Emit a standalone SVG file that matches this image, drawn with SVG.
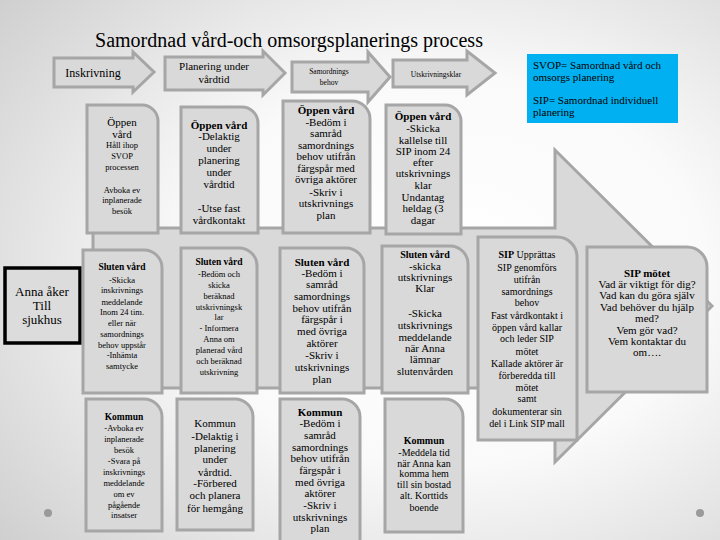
<svg xmlns="http://www.w3.org/2000/svg" width="720" height="540" viewBox="0 0 720 540">
<defs>
<radialGradient id="bg" cx="0.62" cy="0.5" r="0.8">
<stop offset="0" stop-color="#ffffff"/>
<stop offset="0.45" stop-color="#fafafa"/>
<stop offset="1" stop-color="#cfcfcf"/>
</radialGradient>
<style>
.card{fill:#d9d9d9;stroke:#a6a6a6;stroke-width:3}
.arr{fill:#d9d9d9;stroke:#a6a6a6;stroke-width:3;stroke-linejoin:miter}
.t{font-family:"Liberation Serif","Times New Roman",serif;fill:#000;text-anchor:middle}
.b{font-weight:bold}
.s7{font-size:7.5px}.s8{font-size:8.5px}.s9{font-size:9.5px}.s10{font-size:10px}.s11{font-size:11px}.s13{font-size:13px}
.dot{fill:#9a9a9a}
</style>
</defs>
<rect x="0" y="0" width="720" height="540" fill="url(#bg)"/>
<circle class="dot" cx="48" cy="513" r="4"/>
<circle class="dot" cx="700" cy="513" r="4"/>

<g id="big-arrow">
<path class="arr" d="M93,228 H555 V150 L712,306 L555,462 V388 H93 Z"/>
</g>

<g id="connectors"></g>

<g id="title">
<text class="t" x="289" y="47" style="font-size:20px">Samordnad vård-och omsorgsplanerings process</text>
</g>

<g id="step-inskrivning">
<path class="arr" d="M54,58 H133 V52 L154,72 L133,92 V87 H54 Z"/>
<text class="t" style="font-size:12px" x="93" y="77">Inskrivning</text>
</g>
<g id="step-planering">
<path class="arr" d="M165,57 H263 V51 L285,73 L263,95 V90 H165 Z"/>
<text class="t s11"><tspan x="214" y="70">Planering under</tspan><tspan x="214" y="83">vårdtid</tspan></text>
</g>
<g id="step-samordning">
<path class="arr" d="M292,62 H368 V52 L390,77 L368,102 V92 H292 Z"/>
<text class="t s7"><tspan x="329" y="74">Samordnings</tspan><tspan x="329" y="85">behov</tspan></text>
</g>
<g id="step-utskrivning">
<path class="arr" d="M393,60 H467 V51 L495,73 L467,95 V87 H393 Z"/>
<text class="t s7" x="436" y="77">Utskrivningsklar</text>
</g>

<g id="legend">
<rect x="527" y="54" width="151" height="69" fill="#00b0f0"/>
<text class="t s11" style="text-anchor:start"><tspan x="533" y="69">SVOP= Samordnad vård och</tspan><tspan x="533" y="81">omsorgs planering</tspan><tspan x="533" y="104">SIP= Samordnad individuell</tspan><tspan x="533" y="116">planering</tspan></text>
</g>

<g id="anna">
<rect x="5" y="268" width="75" height="75" fill="#dcdcdc" stroke="#000" stroke-width="3.5"/>
<text class="t s13"><tspan x="42" y="296">Anna åker</tspan><tspan x="42" y="310">Till</tspan><tspan x="42" y="324">sjukhus</tspan></text>
</g>

<g id="r1c1">
<path class="card" d="M87,105 H142 A16,16 0 0 1 158,121 V233 H87 Z"/>
<text class="t s11"><tspan x="122" y="126">Öppen</tspan><tspan x="122" y="138">vård</tspan></text>
<text class="t s8"><tspan x="122" y="148">Håll ihop</tspan><tspan x="122" y="159">SVOP</tspan><tspan x="122" y="170">processen</tspan><tspan x="122" y="193">Avboka ev</tspan><tspan x="122" y="203">inplanerade</tspan><tspan x="122" y="214">besök</tspan></text>
</g>
<g id="r1c2">
<path class="card" d="M181,107 H242 A16,16 0 0 1 258,123 V233 H181 Z"/>
<text class="t s11"><tspan x="219" y="129" class="b">Öppen vård</tspan><tspan x="219" y="140">-Delaktig</tspan><tspan x="219" y="152">under</tspan><tspan x="219" y="164">planering</tspan><tspan x="219" y="176">under</tspan><tspan x="219" y="188">vårdtid</tspan><tspan x="219" y="212">-Utse fast</tspan><tspan x="219" y="224">vårdkontakt</tspan></text>
</g>
<g id="r1c3">
<path class="card" d="M283,101 H352 A18,18 0 0 1 370,119 V233 H283 Z"/>
<text class="t s11"><tspan x="326" y="114" class="b">Öppen vård</tspan><tspan x="326" y="126">-Bedöm i</tspan><tspan x="326" y="137">samråd</tspan><tspan x="326" y="149">samordnings</tspan><tspan x="326" y="160">behov utifrån</tspan><tspan x="326" y="172">färgspår med</tspan><tspan x="326" y="183">övriga aktörer</tspan><tspan x="326" y="196">-Skriv i</tspan><tspan x="326" y="207">utskrivnings</tspan><tspan x="326" y="219">plan</tspan></text>
</g>
<g id="r1c4">
<path class="card" d="M386,105 H445 A16,16 0 0 1 461,121 V234 H386 Z"/>
<text class="t s11"><tspan x="423" y="120" class="b">Öppen vård</tspan><tspan x="423" y="132">-Skicka</tspan><tspan x="423" y="144">kallelse till</tspan><tspan x="423" y="155">SIP  inom 24</tspan><tspan x="423" y="166">efter</tspan><tspan x="423" y="177">utskrivnings</tspan><tspan x="423" y="189">klar</tspan><tspan x="423" y="201">Undantag</tspan><tspan x="423" y="212">heldag (3</tspan><tspan x="423" y="224">dagar</tspan></text>
</g>

<g id="r2c1">
<path class="card" d="M83,250 H144 A18,18 0 0 1 162,268 V393 H83 Z"/>
<text class="t s9"><tspan x="122" y="270" class="b">Sluten vård</tspan></text>
<text class="t s8"><tspan x="122" y="283">-Skicka</tspan><tspan x="122" y="293">inskrivnings</tspan><tspan x="122" y="305">meddelande</tspan><tspan x="122" y="315">Inom 24 tim.</tspan><tspan x="122" y="326">eller när</tspan><tspan x="122" y="337">samordnings</tspan><tspan x="122" y="348">behov uppstår</tspan><tspan x="122" y="358">-Inhämta</tspan><tspan x="122" y="369">samtycke</tspan></text>
</g>
<g id="r2c2">
<path class="card" d="M181,248 H239 A18,18 0 0 1 257,266 V393 H181 Z"/>
<text class="t s9"><tspan x="219" y="265" class="b">Sluten vård</tspan></text>
<text class="t s8"><tspan x="219" y="277">-Bedöm och</tspan><tspan x="219" y="288">skicka</tspan><tspan x="219" y="299">beräknad</tspan><tspan x="219" y="310">utskrivningsk</tspan><tspan x="219" y="320">lar</tspan><tspan x="219" y="331">- Informera</tspan><tspan x="219" y="342">Anna om</tspan><tspan x="219" y="353">planerad vård</tspan><tspan x="219" y="364">och beräknad</tspan><tspan x="219" y="375">utskrivning</tspan></text>
</g>
<g id="r2c3">
<path class="card" d="M280,248 H346 A18,18 0 0 1 364,266 V393 H280 Z"/>
<text class="t s11"><tspan x="322" y="266" class="b">Sluten vård</tspan><tspan x="322" y="277">-Bedöm i</tspan><tspan x="322" y="288">samråd</tspan><tspan x="322" y="300">samordnings</tspan><tspan x="322" y="312">behov utifrån</tspan><tspan x="322" y="323">färgspår i</tspan><tspan x="322" y="335">med övriga</tspan><tspan x="322" y="347">aktörer</tspan><tspan x="322" y="359">-Skriv i</tspan><tspan x="322" y="371">utskrivnings</tspan><tspan x="322" y="383">plan</tspan></text>
</g>
<g id="r2c4">
<path class="card" d="M382,246 H450 A18,18 0 0 1 468,264 V393 H382 Z"/>
<text class="t s10"><tspan x="425" y="258" class="b">Sluten vård</tspan></text>
<text class="t s11"><tspan x="425" y="270">-skicka</tspan><tspan x="425" y="281">utskrivnings</tspan><tspan x="425" y="292">Klar</tspan><tspan x="425" y="317">-Skicka</tspan><tspan x="425" y="329">utskrivnings</tspan><tspan x="425" y="341">meddelande</tspan><tspan x="425" y="352">när Anna</tspan><tspan x="425" y="363">lämnar</tspan><tspan x="425" y="375">slutenvården</tspan></text>
</g>
<g id="r2c5">
<path class="card" d="M478,237 H557 A20,20 0 0 1 577,257 V440 H478 Z"/>
<text class="t s10"><tspan x="527" y="258"><tspan class="b">SIP</tspan> Upprättas</tspan><tspan x="527" y="271">SIP genomförs</tspan><tspan x="527" y="283">utifrån</tspan><tspan x="527" y="295">samordnings</tspan><tspan x="527" y="306">behov</tspan><tspan x="527" y="319">Fast vårdkontakt i</tspan><tspan x="527" y="331">öppen vård kallar</tspan><tspan x="527" y="342">och leder SIP</tspan><tspan x="527" y="355">mötet</tspan><tspan x="527" y="367">Kallade aktörer är</tspan><tspan x="527" y="379">förberedda till</tspan><tspan x="527" y="391">mötet</tspan><tspan x="527" y="402">samt</tspan><tspan x="527" y="415">dokumenterar sin</tspan><tspan x="527" y="427">del i Link SIP mall</tspan></text>
</g>
<g id="r2c6">
<path class="card" d="M587,247 H687 A20,20 0 0 1 707,267 V392 H587 Z"/>
<text class="t s11"><tspan x="647" y="277" class="b">SIP mötet</tspan><tspan x="647" y="288">Vad är viktigt för dig?</tspan><tspan x="647" y="299">Vad kan du göra själv</tspan><tspan x="647" y="311">Vad behöver du hjälp</tspan><tspan x="647" y="322">med?</tspan><tspan x="647" y="334">Vem gör vad?</tspan><tspan x="647" y="345">Vem kontaktar du</tspan><tspan x="647" y="356">om….</tspan></text>
</g>

<g id="r3c1">
<path class="card" d="M86,399 H144 A18,18 0 0 1 162,417 V531 H86 Z"/>
<text class="t s9"><tspan x="124" y="420" class="b">Kommun</tspan></text>
<text class="t s8"><tspan x="124" y="431">-Avboka ev</tspan><tspan x="124" y="442">inplanerade</tspan><tspan x="124" y="453">besök</tspan><tspan x="124" y="464">-Svara på</tspan><tspan x="124" y="475">inskrivnings</tspan><tspan x="124" y="486">meddelande</tspan><tspan x="124" y="497">om ev</tspan><tspan x="124" y="508">pågående</tspan><tspan x="124" y="518">insatser</tspan></text>
</g>
<g id="r3c2">
<path class="card" d="M177,399 H235 A18,18 0 0 1 253,417 V530 H177 Z"/>
<text class="t s11"><tspan x="215" y="427">Kommun</tspan><tspan x="215" y="440">-Delaktig i</tspan><tspan x="215" y="452">planering</tspan><tspan x="215" y="463">under</tspan><tspan x="215" y="476">vårdtid.</tspan><tspan x="215" y="487">-Förbered</tspan><tspan x="215" y="499">och planera</tspan><tspan x="215" y="512">för hemgång</tspan></text>
</g>
<g id="r3c3">
<path class="card" d="M280,399 H342 A18,18 0 0 1 360,417 V545 H280 Z"/>
<text class="t s11"><tspan x="320" y="416" class="b">Kommun</tspan><tspan x="320" y="427">-Bedöm i</tspan><tspan x="320" y="439">samråd</tspan><tspan x="320" y="451">samordnings</tspan><tspan x="320" y="462">behov utifrån</tspan><tspan x="320" y="474">färgspår i</tspan><tspan x="320" y="486">med övriga</tspan><tspan x="320" y="497">aktörer</tspan><tspan x="320" y="509">-Skriv i</tspan><tspan x="320" y="521">utskrivnings</tspan><tspan x="320" y="532">plan</tspan></text>
</g>
<g id="r3c4">
<path class="card" d="M385,399 H445 A18,18 0 0 1 463,417 V532 H385 Z"/>
<text class="t s10"><tspan x="424" y="444" class="b">Kommun</tspan><tspan x="424" y="456">-Meddela tid</tspan><tspan x="424" y="467">när Anna kan</tspan><tspan x="424" y="477">komma hem</tspan><tspan x="424" y="488">till  sin bostad</tspan><tspan x="424" y="499">alt. Korttids</tspan><tspan x="424" y="511">boende</tspan></text>
</g>
</svg>
